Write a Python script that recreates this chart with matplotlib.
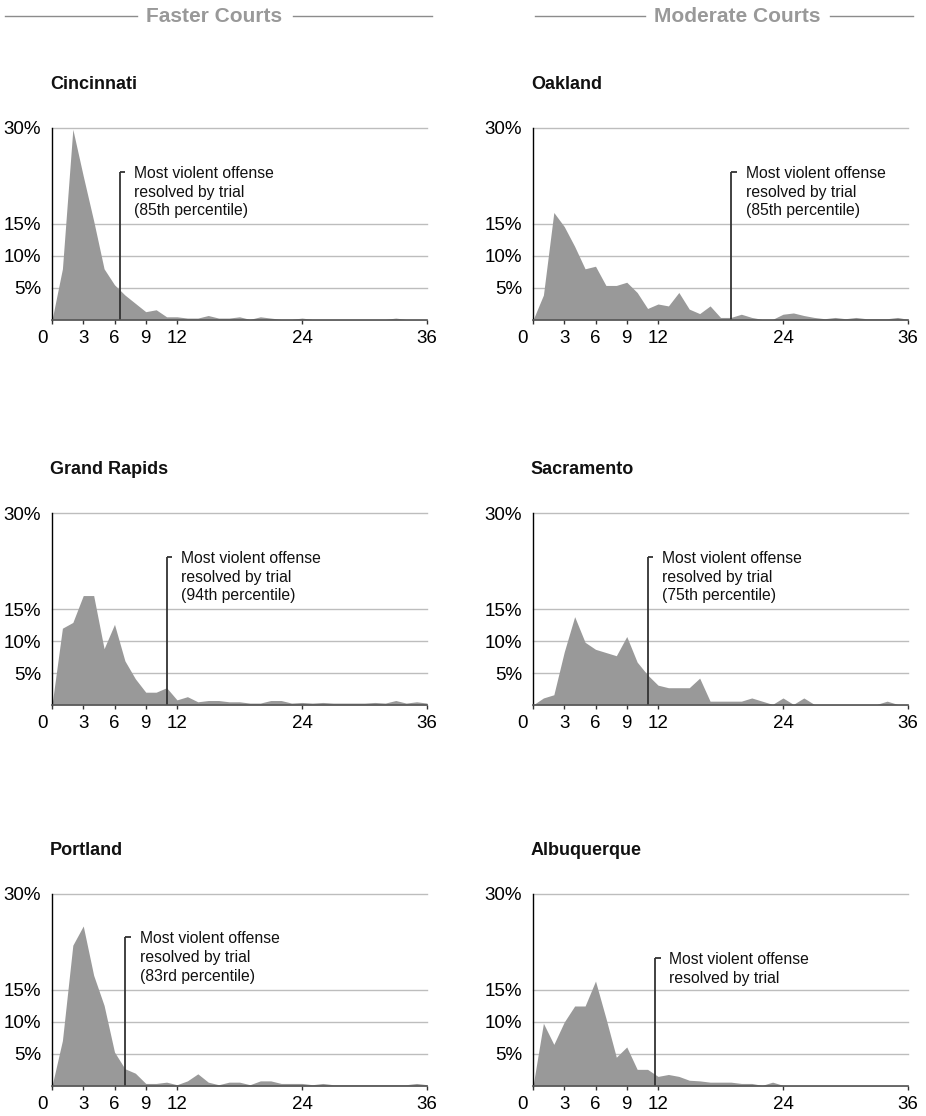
import numpy as np
import matplotlib
matplotlib.use("Agg")
import matplotlib.pyplot as plt
import matplotlib.transforms as mtrans
from matplotlib.lines import Line2D

plt.rcParams['font.family'] = ['Liberation Sans', 'DejaVu Sans']

# months since arrest, 0..36
months = np.arange(37)

cincinnati = [0, 8, 29.8, 22.5, 15.5, 8, 5.5, 3.9, 2.6, 1.3, 1.6, 0.5, 0.5, 0.3, 0.3,
              0.7, 0.3, 0.3, 0.5, 0.1, 0.5, 0.3, 0.1, 0.1, 0.3, 0.1, 0.1, 0.1, 0.1,
              0.1, 0.1, 0.1, 0.1, 0.3, 0.1, 0.1, 0.1]
oakland = [0, 3.9, 16.8, 14.6, 11.5, 8, 8.4, 5.4, 5.4, 5.9, 4.3, 1.8, 2.5, 2.2, 4.3,
           1.7, 1.0, 2.2, 0.4, 0.4, 0.9, 0.4, 0.1, 0.1, 0.9, 1.1, 0.7, 0.4, 0.2,
           0.4, 0.2, 0.4, 0.2, 0.2, 0.2, 0.4, 0.1]
grand_rapids = [0, 12, 12.9, 17.1, 17.1, 8.8, 12.6, 6.9, 4.1, 2.0, 2.0, 2.7, 0.8, 1.3,
                0.5, 0.7, 0.7, 0.5, 0.5, 0.3, 0.3, 0.7, 0.7, 0.3, 0.4, 0.3, 0.4, 0.3,
                0.3, 0.3, 0.3, 0.4, 0.3, 0.7, 0.3, 0.5, 0.3]
sacramento = [0, 1.1, 1.6, 8.3, 13.8, 9.8, 8.7, 8.2, 7.7, 10.7, 6.7, 4.7, 3.1, 2.7,
              2.7, 2.7, 4.2, 0.6, 0.6, 0.6, 0.6, 1.1, 0.6, 0.1, 1.1, 0.1, 1.1, 0.1,
              0.1, 0.1, 0.1, 0.1, 0.1, 0.1, 0.6, 0.1, 0.1]
portland = [0, 7.1, 22, 25, 17.3, 12.6, 5.3, 2.7, 2.0, 0.4, 0.4, 0.6, 0.2, 0.8, 1.9,
            0.6, 0.2, 0.6, 0.6, 0.2, 0.8, 0.8, 0.4, 0.4, 0.4, 0.2, 0.4, 0.2, 0.2,
            0.2, 0.2, 0.2, 0.2, 0.2, 0.2, 0.4, 0.2]
albuquerque = [0, 9.8, 6.5, 10, 12.5, 12.5, 16.4, 10.6, 4.5, 6.1, 2.6, 2.6, 1.5, 1.8,
               1.5, 0.9, 0.8, 0.6, 0.6, 0.6, 0.4, 0.4, 0.1, 0.6, 0.1, 0.1, 0.1, 0.1,
               0.1, 0.1, 0.1, 0.1, 0.1, 0.1, 0.1, 0.1, 0.1]

cities = ["Cincinnati", "Oakland", "Grand Rapids", "Sacramento", "Portland", "Albuquerque"]
series = [cincinnati, oakland, grand_rapids, sacramento, portland, albuquerque]
trial_month = [6.5, 19, 11, 11, 7, 11.7]
trial_top = [23.2, 23.2, 23.2, 23.2, 23.3, 20.0]
trial_text = [
    "Most violent offense\nresolved by trial\n(85th percentile)",
    "Most violent offense\nresolved by trial\n(85th percentile)",
    "Most violent offense\nresolved by trial\n(94th percentile)",
    "Most violent offense\nresolved by trial\n(75th percentile)",
    "Most violent offense\nresolved by trial\n(83rd percentile)",
    "Most violent offense\nresolved by trial",
]
yticks = [5, 10, 15, 30]
ytick_labels = ["5%", "10%", "15%", "30%"]
xticks = [0, 3, 6, 9, 12, 24, 36]
groups = ["Faster Courts", "Moderate Courts"]

W, H = 926, 1116
fig = plt.figure(figsize=(W / 100, H / 100), dpi=100)

col_x = [52, 533]
row_bottom = [320, 705, 1086]
ax_w, ax_h = 375, 192

for i, (name, vals) in enumerate(zip(cities, series)):
    r, c = divmod(i, 2)
    ax = fig.add_axes([col_x[c] / W, 1 - row_bottom[r] / H, ax_w / W, ax_h / H])
    ax.fill_between(months, vals, 0, color="#999999", lw=0)
    for yv in yticks:
        ax.axhline(yv, color="#bdbdbd", lw=1, zorder=0.5, clip_on=False)
    ax.set_xlim(0, 36)
    ax.set_ylim(0, 30)
    ax.set_yticks(yticks)
    ax.set_yticklabels(ytick_labels)
    ax.set_xticks(xticks)
    ax.set_xticklabels([str(t) for t in xticks])
    ax.tick_params(axis="y", length=0, pad=8, labelsize=13.5)
    ax.tick_params(axis="x", length=3, width=1, pad=4.5, labelsize=13.5, color="#333333")
    # "0" sits left of the corner
    lab0 = ax.get_xticklabels()[0]
    lab0.set_transform(lab0.get_transform() + mtrans.ScaledTranslation(-10 / 100, 0, fig.dpi_scale_trans))
    for s in ["top", "right"]:
        ax.spines[s].set_visible(False)
    ax.spines["left"].set_color("black")
    ax.spines["left"].set_linewidth(1)
    ax.spines["bottom"].set_color("#555555")
    ax.spines["bottom"].set_linewidth(1.2)

    m, top = trial_month[i], trial_top[i]
    ax.plot([m, m], [0, top], color="#333333", lw=1.3, solid_capstyle="butt")
    ax.plot([m, m + 0.55], [top, top], color="#333333", lw=1.3, solid_capstyle="butt")
    ax.annotate(trial_text[i], xy=(m, top), xytext=(10.5, 4), textcoords="offset points",
                ha="left", va="top", fontsize=11.3, linespacing=1.3, color="#111111")

    ax.annotate(name, xy=(0, 1), xycoords="axes fraction", xytext=(-1.5, 31.5),
                textcoords="offset points", ha="left", va="center",
                fontsize=13, fontweight="bold", color="#111111")

# group headers with rules either side
hy = 1 - 16 / H
for label, cx, l1, l2 in [(groups[0], 214, (5, 137), (293, 432)),
                          (groups[1], 737, (535, 645), (830, 913))]:
    fig.text(cx / W, hy, label, ha="center", va="center", fontsize=15,
             fontweight="bold", color="#999999")
    for a, b in (l1, l2):
        fig.add_artist(Line2D([a / W, b / W], [hy, hy], color="#8c8c8c", lw=1,
                              transform=fig.transFigure))

fig.savefig("out.png", dpi=100)
